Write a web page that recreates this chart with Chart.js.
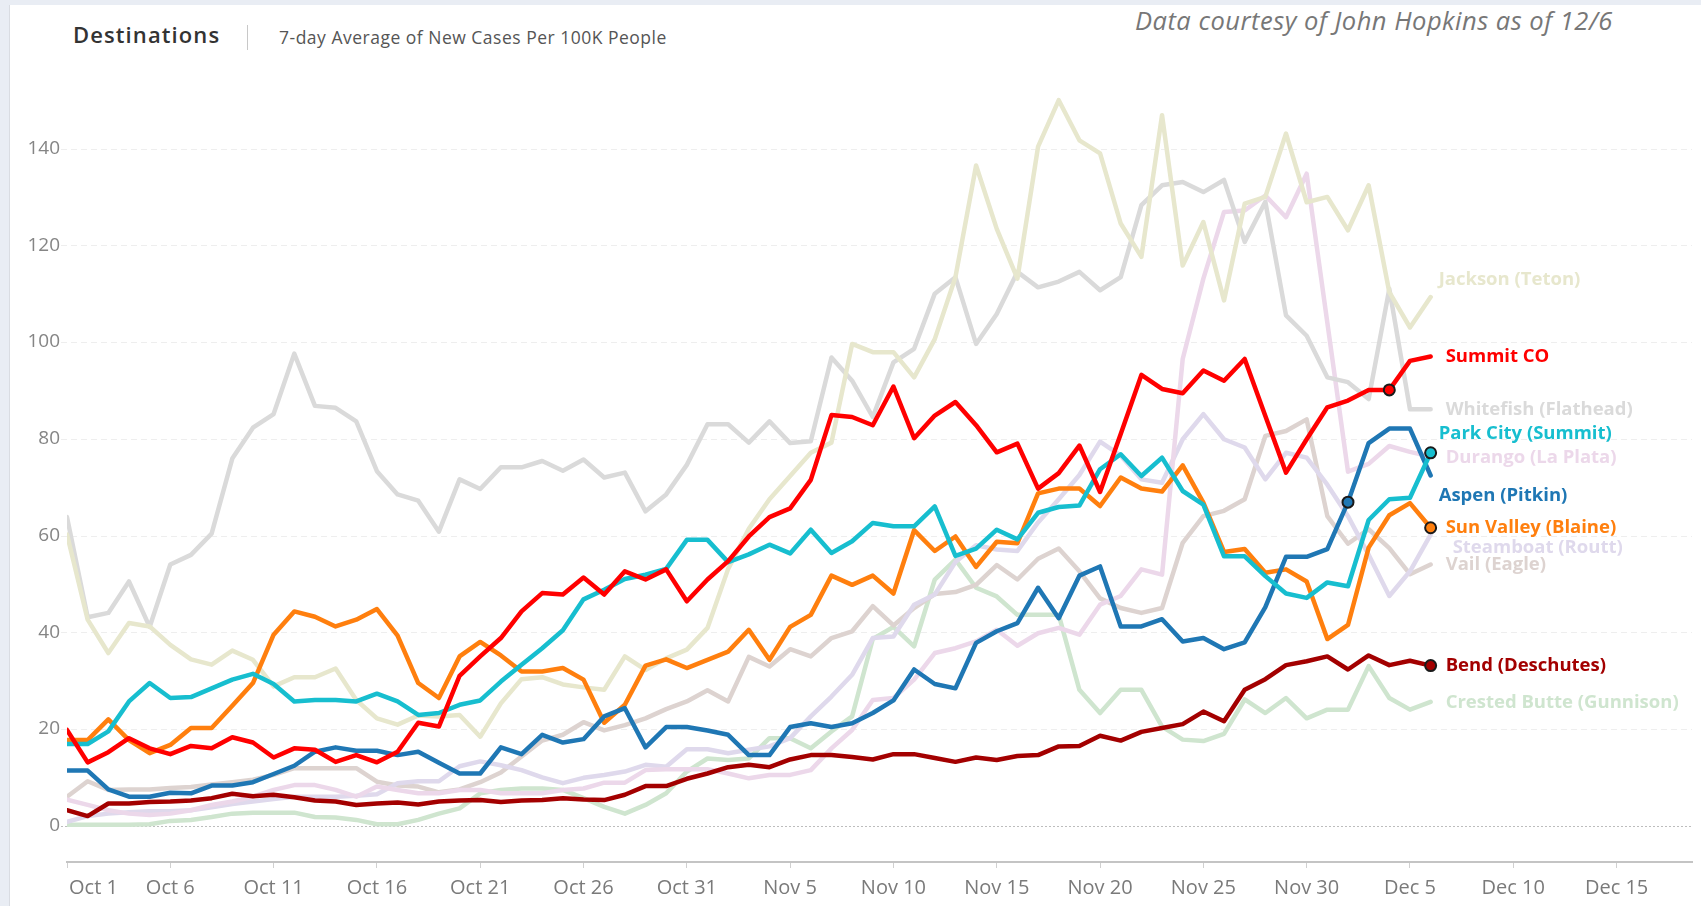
<!DOCTYPE html>
<html>
<head>
<meta charset="utf-8">
<title>Destinations</title>
<script src="https://cdn.jsdelivr.net/npm/chart.js@4.4.0/dist/chart.umd.min.js"></script>
<style>
  html, body { margin: 0; padding: 0; }
  body { width: 1701px; height: 906px; background: #e9edf4; position: relative; overflow: hidden; font-family: 'Open Sans', sans-serif; }
  #panel { position: absolute; left: 9px; top: 5px; right: 0; bottom: 0; background: #fff; border-left: 1px solid #d9dce2; }
  #chart { position: absolute; left: 0; top: 0; }
  .title { position: absolute; left: 73px; top: 19px; font-size: 22px; letter-spacing: 1.1px; font-weight: 600; color: #333; }
  .sep { position: absolute; left: 247px; top: 25px; width: 1px; height: 25px; background: #c8c8c8; }
  .subtitle { position: absolute; left: 279px; top: 25px; font-size: 17.5px; letter-spacing: 0.5px; color: #555; }
  .credit { position: absolute; left: 1135px; top: 3px; font-size: 25.5px; letter-spacing: 0.5px; font-style: italic; color: #777; }
</style>
</head>
<body>
<div id="panel"></div>
<div class="title">Destinations</div>
<div class="sep"></div>
<div class="subtitle">7-day Average of New Cases Per 100K People</div>
<div class="credit">Data courtesy of John Hopkins as of 12/6</div>
<canvas id="chart" width="1701" height="906"></canvas>
<script>
// one value per day, Oct 1 .. Dec 6
const jackson = [60.2, 42.6, 35.7, 41.9, 41.2, 37.4, 34.4, 33.3, 36.2, 34.3,
  28.8, 30.7, 30.7, 32.5, 26.0, 22.2, 20.9, 22.8, 22.6, 22.9,
  18.4, 25.3, 30.3, 30.7, 29.2, 28.6, 28.1, 35.0, 32.2, 34.6,
  36.4, 40.9, 53.1, 61.4, 67.5, 72.3, 77.1, 79.2, 99.6, 97.9,
  97.9, 92.7, 100.6, 113.4, 136.5, 123.4, 113.1, 140.4, 150.0, 141.7,
  139.0, 124.5, 117.6, 146.9, 115.8, 124.8, 108.6, 128.6, 130.0, 143.1,
  128.9, 130.0, 123.1, 132.4, 110.3, 103.0, 109.3];
const summitCO = [19.8, 13.1, 15.2, 18.1, 16.0, 14.8, 16.5, 16.0, 18.3, 17.2,
  14.1, 16.0, 15.7, 13.2, 14.6, 13.1, 15.3, 21.3, 20.5, 31.0,
  35.0, 38.8, 44.3, 48.1, 47.8, 51.3, 47.8, 52.6, 50.9, 53.0,
  46.4, 50.9, 54.7, 59.8, 63.8, 65.6, 71.5, 84.9, 84.5, 82.8,
  90.8, 80.1, 84.8, 87.6, 82.8, 77.2, 79.0, 69.7, 72.9, 78.6,
  69.0, 81.0, 93.2, 90.3, 89.4, 94.1, 92.0, 96.5, 84.7, 73.0,
  79.9, 86.5, 87.9, 90.1, 90.1, 96.1, 97.0];
const whitefish = [63.8, 43.1, 44.0, 50.5, 41.1, 54.0, 56.0, 60.4, 75.9, 82.3,
  85.1, 97.6, 86.8, 86.4, 83.6, 73.3, 68.5, 67.2, 60.8, 71.6,
  69.6, 74.1, 74.1, 75.4, 73.4, 75.7, 72.0, 73.0, 65.0, 68.5,
  74.6, 83.0, 83.0, 79.2, 83.6, 79.1, 79.5, 96.8, 92.0, 84.5,
  95.8, 98.6, 110.0, 113.4, 99.6, 105.8, 114.5, 111.3, 112.5, 114.5,
  110.7, 113.4, 128.3, 132.4, 133.1, 131.0, 133.5, 120.7, 129.0, 105.5,
  101.3, 92.7, 91.7, 88.2, 111.0, 86.1, 86.1];
const parkCity = [16.9, 16.9, 19.5, 25.7, 29.5, 26.4, 26.6, 28.4, 30.2, 31.4,
  29.3, 25.7, 26.0, 26.0, 25.7, 27.3, 25.7, 22.9, 23.3, 25.0,
  25.9, 29.8, 33.3, 36.7, 40.4, 46.8, 48.8, 51.0, 51.9, 53.1,
  59.1, 59.1, 54.5, 56.1, 58.1, 56.3, 61.2, 56.4, 58.8, 62.6,
  61.9, 61.9, 66.0, 55.8, 57.3, 61.2, 59.2, 64.7, 65.9, 66.2,
  73.7, 76.8, 72.3, 76.1, 69.2, 66.4, 55.7, 55.7, 51.6, 48.0,
  47.1, 50.3, 49.5, 63.2, 67.5, 67.8, 77.1];
const durango = [5.4, 4.3, 3.2, 2.5, 2.2, 2.5, 3.2, 4.3, 5.0, 6.0,
  7.4, 8.4, 8.4, 7.4, 6.0, 8.1, 7.4, 6.7, 6.7, 7.4,
  7.4, 6.7, 6.7, 6.7, 7.4, 7.7, 8.9, 8.9, 11.5, 11.7,
  11.7, 11.7, 10.8, 9.8, 10.5, 10.5, 11.5, 16.0, 19.8, 26.0,
  26.4, 30.2, 35.7, 36.7, 38.1, 40.5, 37.2, 39.8, 40.9, 39.5,
  45.7, 47.5, 53.0, 51.9, 96.5, 113.1, 126.9, 127.2, 130.3, 125.8,
  134.8, 104.0, 73.2, 74.8, 78.5, 77.3, 76.3];
const aspen = [11.4, 11.4, 7.5, 6.0, 6.0, 6.8, 6.7, 8.3, 8.3, 9.0,
  10.7, 12.4, 15.3, 16.2, 15.5, 15.5, 14.6, 15.3, 13.0, 10.8,
  10.8, 16.2, 14.8, 18.8, 17.2, 17.9, 22.6, 24.3, 16.2, 20.4,
  20.4, 19.7, 18.8, 14.6, 14.6, 20.4, 21.2, 20.4, 21.2, 23.3,
  25.9, 32.3, 29.3, 28.4, 37.8, 40.2, 41.9, 49.2, 42.9, 51.7,
  53.6, 41.2, 41.2, 42.7, 38.1, 38.8, 36.5, 37.9, 45.2, 55.6,
  55.6, 57.2, 66.9, 79.1, 82.1, 82.1, 72.4];
const sunValley = [17.7, 17.7, 22.0, 17.7, 15.0, 16.7, 20.2, 20.2, 24.8, 29.5,
  39.5, 44.3, 43.2, 41.2, 42.6, 44.8, 39.3, 29.5, 26.4, 35.0,
  38.0, 35.2, 31.9, 31.9, 32.6, 30.2, 21.3, 25.0, 33.1, 34.4,
  32.6, 34.3, 36.0, 40.5, 34.3, 41.1, 43.6, 51.7, 49.8, 51.7,
  48.0, 61.1, 56.8, 59.8, 53.5, 58.7, 58.4, 68.7, 69.7, 69.7,
  66.1, 72.0, 69.7, 69.1, 74.5, 66.8, 56.6, 57.2, 52.3, 53.0,
  50.5, 38.6, 41.5, 57.5, 64.2, 66.7, 61.6];
const steamboat = [0.8, 2.0, 2.5, 2.8, 3.0, 3.0, 3.2, 3.8, 4.5, 5.0,
  5.5, 6.0, 6.0, 6.0, 6.2, 6.5, 8.8, 9.2, 9.2, 12.3,
  13.3, 12.5, 11.5, 10.0, 8.8, 9.9, 10.5, 11.2, 12.6, 12.2,
  15.8, 15.8, 15.0, 15.7, 16.4, 18.1, 22.6, 26.7, 31.2, 38.8,
  39.1, 45.7, 47.8, 54.5, 58.0, 57.1, 56.8, 62.7, 67.5, 72.5,
  79.4, 76.5, 71.6, 70.9, 79.9, 85.1, 79.9, 78.2, 71.6, 77.1,
  76.1, 70.5, 64.0, 56.0, 47.5, 52.6, 60.2];
const vail = [6.0, 9.2, 7.4, 7.5, 7.5, 7.8, 8.0, 8.5, 9.0, 9.5,
  10.5, 11.9, 11.9, 11.9, 11.9, 9.1, 8.3, 8.1, 6.9, 7.5,
  9.0, 11.0, 14.3, 17.6, 18.8, 21.4, 19.7, 20.8, 22.2, 24.1,
  25.7, 28.0, 25.7, 34.9, 32.9, 36.5, 35.0, 38.8, 40.2, 45.4,
  41.4, 45.0, 47.9, 48.3, 49.8, 53.9, 50.9, 55.2, 57.3, 52.6,
  47.0, 45.0, 44.0, 45.0, 58.5, 64.0, 65.1, 67.5, 80.6, 81.6,
  84.0, 64.0, 58.3, 61.3, 57.4, 52.0, 54.0];
const bend = [3.2, 2.0, 4.6, 4.6, 4.9, 5.0, 5.2, 5.7, 6.6, 6.1,
  6.4, 5.9, 5.2, 5.0, 4.3, 4.6, 4.8, 4.4, 5.0, 5.2,
  5.3, 4.9, 5.2, 5.3, 5.7, 5.4, 5.3, 6.4, 8.2, 8.2,
  9.7, 10.8, 12.1, 12.6, 12.1, 13.7, 14.6, 14.6, 14.2, 13.7,
  14.8, 14.8, 14.0, 13.2, 14.1, 13.6, 14.4, 14.6, 16.4, 16.5,
  18.6, 17.6, 19.4, 20.2, 21.0, 23.6, 21.6, 28.1, 30.3, 33.2,
  34.0, 35.0, 32.3, 35.2, 33.2, 34.1, 33.1];
const crestedButte = [0.2, 0.2, 0.2, 0.2, 0.3, 1.0, 1.2, 1.8, 2.5, 2.7,
  2.7, 2.7, 1.8, 1.7, 1.2, 0.3, 0.3, 1.2, 2.5, 3.6,
  6.7, 7.4, 7.7, 7.7, 7.4, 5.7, 3.9, 2.5, 4.3, 6.7,
  11.2, 13.9, 13.6, 13.9, 18.1, 18.1, 16.0, 19.5, 22.6, 38.6,
  41.1, 37.1, 50.9, 55.0, 49.2, 47.4, 43.6, 43.6, 43.6, 28.1,
  23.3, 28.1, 28.1, 20.5, 17.8, 17.5, 19.0, 26.1, 23.3, 26.4,
  22.2, 24.0, 24.0, 33.0, 26.4, 24.0, 25.6];

// x axis: days since Oct 1
const tickDays = [0, 5, 10, 15, 20, 25, 30, 35, 40, 45, 50, 55, 60, 65, 70, 75];
const tickLabels = ['Oct 1', 'Oct 6', 'Oct 11', 'Oct 16', 'Oct 21', 'Oct 26', 'Oct 31',
  'Nov 5', 'Nov 10', 'Nov 15', 'Nov 20', 'Nov 25', 'Nov 30', 'Dec 5', 'Dec 10', 'Dec 15'];
const yTicks = [0, 20, 40, 60, 80, 100, 120, 140];

// name, values, colour, highlighted, marker day, label nudge [dx, dy]
const series = [
  ['Summit CO', summitCO, '#ff0000', true, 64, [15, 0]],
  ['Park City (Summit)', parkCity, '#17becf', true, 66, [8, -19]],
  ['Aspen (Pitkin)', aspen, '#1f77b4', true, 62, [8, 20]],
  ['Sun Valley (Blaine)', sunValley, '#ff7f0e', true, 66, [15, 0]],
  ['Bend (Deschutes)', bend, '#a30000', true, 66, [15, 0]],
  ['Jackson (Teton)', jackson, '#e7e7cd', false, -1, [8, -17]],
  ['Whitefish (Flathead)', whitefish, '#dadada', false, -1, [15, 0]],
  ['Durango (La Plata)', durango, '#ecd8ea', false, -1, [15, 1]],
  ['Steamboat (Routt)', steamboat, '#dfd9ec', false, -1, [22, 13]],
  ['Vail (Eagle)', vail, '#ddd3d0', false, -1, [15, 0]],
  ['Crested Butte (Gunnison)', crestedButte, '#cfe5cf', false, -1, [15, 1]]
];

const datasets = series.map(([name, values, color, bold, marker, nudge]) => ({
  label: name,
  data: values.map((v, i) => ({ x: i, y: v })),
  borderColor: color,
  backgroundColor: color,
  borderWidth: 4.5,
  borderJoinStyle: 'round',
  borderCapStyle: 'round',
  tension: 0,
  pointRadius: values.map((v, i) => i === marker ? 5.5 : 0),
  pointHoverRadius: 0,
  pointBackgroundColor: color,
  pointBorderColor: '#1a1a1a',
  pointBorderWidth: 2,
  order: bold ? 1 : 2,
  labelNudge: nudge
}));

// dashed horizontal grid, dotted zero line
const gridLines = {
  id: 'gridLines',
  beforeDatasetsDraw(chart) {
    const { ctx, chartArea, scales: { y } } = chart;
    ctx.save();
    ctx.lineWidth = 1;
    yTicks.forEach(v => {
      const py = Math.round(y.getPixelForValue(v)) + 0.5;
      ctx.beginPath();
      ctx.setLineDash(v === 0 ? [2, 2] : [6, 4]);
      ctx.strokeStyle = v === 0 ? '#bdbdbd' : '#eeeeee';
      ctx.moveTo(chartArea.left - 6, py);
      ctx.lineTo(chartArea.right, py);
      ctx.stroke();
    });
    ctx.restore();
  }
};

// date labels under the axis, first one starts at its tick
const xLabels = {
  id: 'xLabels',
  afterDraw(chart) {
    const { ctx, chartArea, scales: { x } } = chart;
    ctx.save();
    ctx.font = '20px "Open Sans"';
    ctx.fillStyle = '#7a7a7a';
    ctx.textBaseline = 'middle';
    tickDays.forEach((d, i) => {
      ctx.textAlign = i === 0 ? 'left' : 'center';
      const px = x.getPixelForValue(d) + (i === 0 ? 2 : 0);
      ctx.fillText(tickLabels[i], px, chartArea.bottom + 26);
    });
    ctx.restore();
  }
};

// series names at the end of each line
const endLabels = {
  id: 'endLabels',
  afterDatasetsDraw(chart) {
    const ctx = chart.ctx;
    ctx.save();
    ctx.font = 'bold 18.5px "Open Sans"';
    ctx.textBaseline = 'middle';
    ctx.textAlign = 'left';
    chart.data.datasets.forEach((ds, i) => {
      const meta = chart.getDatasetMeta(i);
      const pt = meta.data[meta.data.length - 1];
      ctx.fillStyle = ds.borderColor;
      ctx.fillText(ds.label, pt.x + ds.labelNudge[0], pt.y + ds.labelNudge[1]);
    });
    ctx.restore();
  }
};

new Chart(document.getElementById('chart'), {
  type: 'line',
  data: { datasets },
  options: {
    responsive: false,
    animation: false,
    devicePixelRatio: 1,
    layout: { padding: { top: 51.8, right: 9, left: 0, bottom: 0 } },
    plugins: { legend: { display: false }, tooltip: { enabled: false } },
    scales: {
      x: {
        type: 'linear',
        min: 0,
        max: 78.65,
        afterBuildTicks: s => { s.ticks = tickDays.map(v => ({ value: v })); },
        afterFit: s => { s.height = 44; },
        ticks: { display: false },
        grid: { display: true, drawOnChartArea: false, drawTicks: true, tickLength: 6, color: '#d0d0d0' },
        border: { display: true, color: '#c4c4c4', width: 2 }
      },
      y: {
        min: -7.5,
        max: 160,
        afterBuildTicks: s => { s.ticks = yTicks.map(v => ({ value: v })); },
        afterFit: s => { s.width = 67; },
        ticks: { padding: 7, color: '#858585', font: { family: 'Open Sans', size: 19 } },
        grid: { display: false, drawTicks: false },
        border: { display: false }
      }
    }
  },
  plugins: [gridLines, xLabels, endLabels]
});
</script>
</body>
</html>
